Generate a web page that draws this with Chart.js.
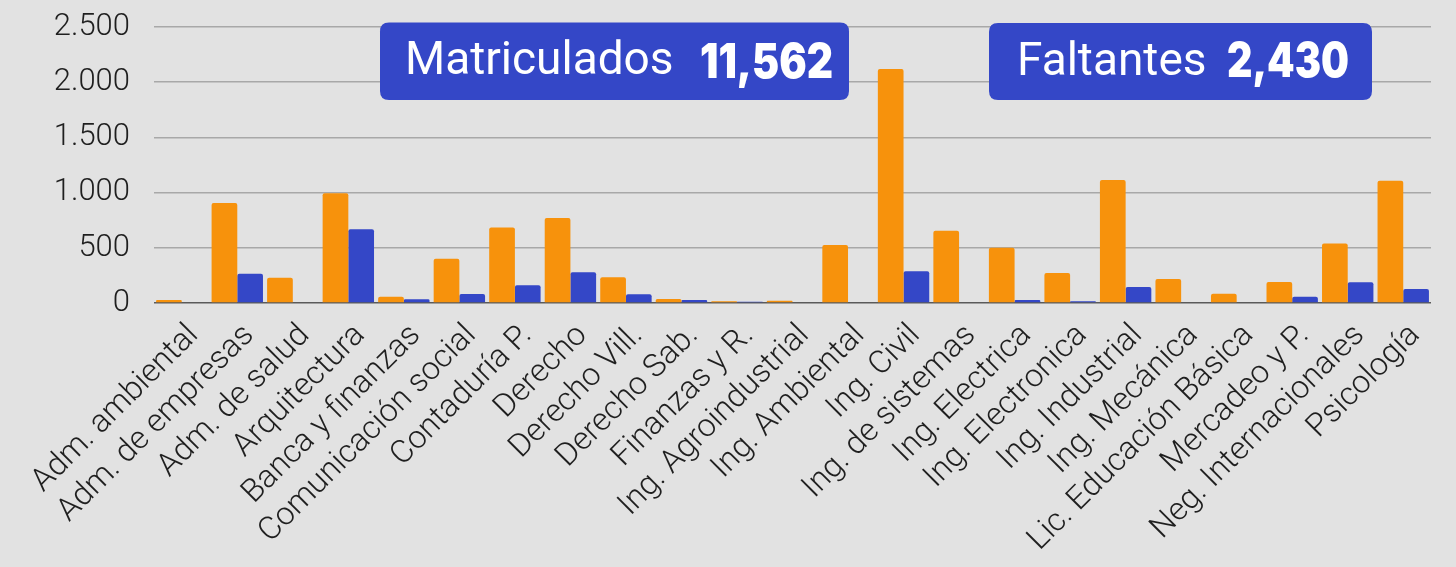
<!DOCTYPE html>
<html>
<head>
<meta charset="utf-8">
<script src="https://cdn.jsdelivr.net/npm/chart.js@4.4.1/dist/chart.umd.min.js"></script>
<style>
  html, body { margin: 0; padding: 0; background: #e2e2e2; }
  #wrap { position: relative; width: 1456px; height: 567px; }
</style>
</head>
<body>
<div id="wrap"><canvas id="c" width="1456" height="567"></canvas></div>
<script>
const categories = [
  "Adm. ambiental", "Adm. de empresas", "Adm. de salud", "Arquitectura",
  "Banca y finanzas", "Comunicación social", "Contaduría P.", "Derecho",
  "Derecho Vill.", "Derecho Sab.", "Finanzas y R.", "Ing. Agroindustrial",
  "Ing. Ambiental", "Ing. Civil", "Ing. de sistemas", "Ing. Electrica",
  "Ing. Electronica", "Ing. Industrial", "Ing. Mecánica", "Lic. Educación Básica",
  "Mercadeo y P.", "Neg. Internacionales", "Psicología"
];
const matriculados = [27, 905, 229, 993, 57, 401, 685, 770, 233, 36, 15, 21, 525, 2120, 655, 500, 271, 1113, 217, 84, 190, 540, 1107];
const faltantes    = [0, 265, 0, 667, 33, 81, 160, 278, 79, 27, 12, 0, 0, 287, 0, 27, 15, 145, 0, 0, 57, 187, 127];
const yTicks = [0, 500, 1000, 1500, 2000, 2500];
const callouts = [
  { label: "Matriculados", total: "11,562" },
  { label: "Faltantes", total: "2,430" }
];

const ORANGE = "rgb(247,146,12)";
const BLUE = "rgb(52,71,199)";

function fmt(v) {
  return String(v).replace(/\B(?=(\d{3})+(?!\d))/g, ".");
}

function roundRect(ctx, x, y, w, h, r) {
  ctx.beginPath();
  ctx.moveTo(x + r, y);
  ctx.lineTo(x + w - r, y);
  ctx.quadraticCurveTo(x + w, y, x + w, y + r);
  ctx.lineTo(x + w, y + h - r);
  ctx.quadraticCurveTo(x + w, y + h, x + w - r, y + h);
  ctx.lineTo(x + r, y + h);
  ctx.quadraticCurveTo(x, y + h, x, y + h - r);
  ctx.lineTo(x, y + r);
  ctx.quadraticCurveTo(x, y, x + r, y);
  ctx.closePath();
}

const calloutPlugin = {
  id: "callouts",
  afterDraw(chart) {
    const ctx = chart.ctx;
    const boxes = [
      { x: 380, y: 22.5, w: 469, h: 77.5, tx: 405, ty: 73.5, bx: 700, bw: 133, by: 77.5 },
      { x: 989, y: 23, w: 383, h: 77, tx: 1017, ty: 74.5, bx: 1227, bw: 122, by: 76.5 }
    ];
    ctx.save();
    boxes.forEach((b, i) => {
      ctx.fillStyle = BLUE;
      roundRect(ctx, b.x, b.y, b.w, b.h, 9);
      ctx.fill();
      ctx.fillStyle = "#ffffff";
      ctx.textBaseline = "alphabetic";
      ctx.textAlign = "left";
      ctx.font = "400 46px Roboto";
      ctx.fillText(callouts[i].label, b.tx, b.ty);
      ctx.font = "900 48px Inter";
      ctx.fillText(callouts[i].total, b.bx, b.by, b.bw);
    });
    ctx.restore();
  }
};

const bgPlugin = {
  id: "bg",
  beforeDraw(chart) {
    const ctx = chart.ctx;
    ctx.save();
    ctx.fillStyle = "#e2e2e2";
    ctx.fillRect(0, 0, chart.width, chart.height);
    ctx.restore();
  }
};

new Chart(document.getElementById("c"), {
  type: "bar",
  data: {
    labels: categories,
    datasets: [
      { label: "Matriculados", data: matriculados, backgroundColor: ORANGE, borderRadius: 2, borderSkipped: "bottom" },
      { label: "Faltantes", data: faltantes, backgroundColor: BLUE, borderRadius: 2, borderSkipped: "bottom" }
    ]
  },
  options: {
    responsive: false,
    animation: false,
    layout: { padding: { top: 27, right: 25, left: 0, bottom: 0 } },
    plugins: { legend: { display: false }, tooltip: { enabled: false }, title: { display: false } },
    datasets: { bar: { categoryPercentage: 0.9256, barPercentage: 1.0 } },
    scales: {
      x: {
        grid: { display: false, drawTicks: false },
        border: { display: false },
        ticks: {
          autoSkip: false,
          maxRotation: 45,
          minRotation: 45,
          padding: 14,
          labelOffset: 12,
          color: "#1f1f1f",
          font: { family: "Roboto", size: 32, weight: "300" }
        },
        afterFit(scale) {
          scale.height = 264;
          scale.paddingTop = 0; scale.paddingBottom = 0;
          scale.paddingLeft = 0; scale.paddingRight = 0;
        }
      },
      y: {
        min: 0,
        max: 2500,
        afterBuildTicks(scale) { scale.ticks = yTicks.map(v => ({ value: v })); },
        grid: {
          drawTicks: false,
          color: ctx => (ctx.tick && ctx.tick.value === 0 ? "#5a5a5a" : "#a8a8a8"),
          lineWidth: ctx => (ctx.tick && ctx.tick.value === 0 ? 1.6 : 1.5)
        },
        border: { display: false },
        ticks: {
          padding: 24,
          color: "#1f1f1f",
          font: { family: "Roboto", size: 31, weight: "300" },
          callback: v => fmt(v)
        },
        afterFit(scale) {
          scale.width = 154;
          scale.paddingTop = 0; scale.paddingBottom = 0;
        }
      }
    }
  },
  plugins: [bgPlugin, calloutPlugin]
});
</script>
</body>
</html>
